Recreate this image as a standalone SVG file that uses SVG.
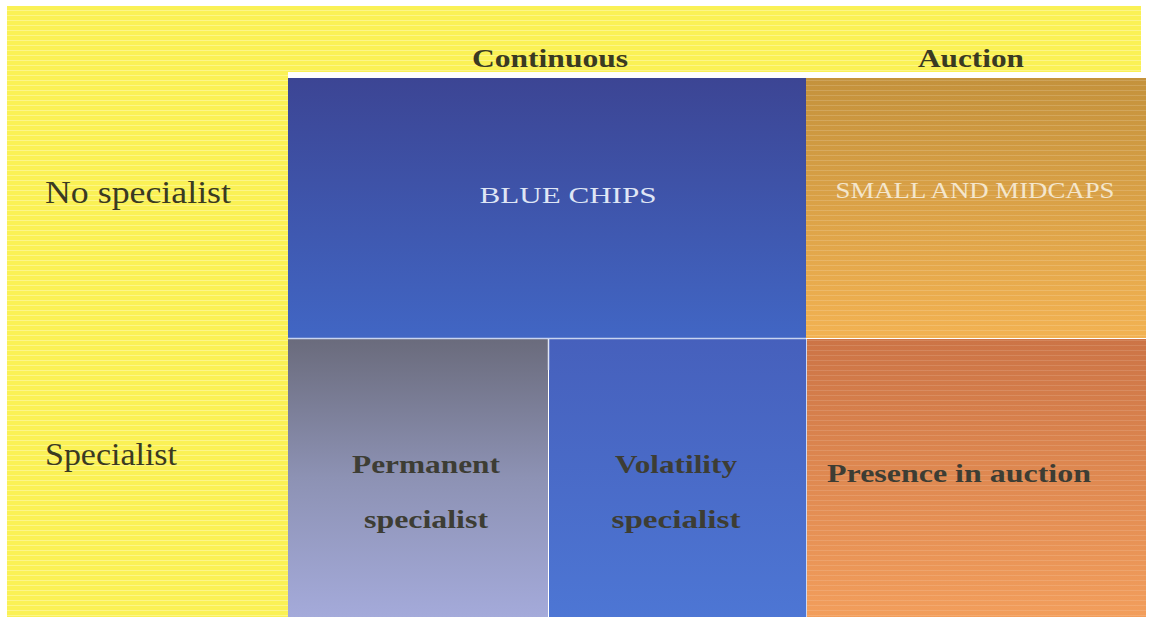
<svg xmlns="http://www.w3.org/2000/svg" width="1149" height="621" viewBox="0 0 1149 621">
<defs>
<linearGradient id="gBlue" x1="0" y1="0" x2="0" y2="1"><stop offset="0" stop-color="#3c4594"/><stop offset="1" stop-color="#4166c4"/></linearGradient>
<linearGradient id="gGold" x1="0" y1="0" x2="0" y2="1"><stop offset="0" stop-color="#c4923c"/><stop offset="1" stop-color="#f2b252"/></linearGradient>
<linearGradient id="gGray" x1="0" y1="0" x2="0" y2="1"><stop offset="0" stop-color="#6a6b7c"/><stop offset="0.5" stop-color="#8d92b4"/><stop offset="1" stop-color="#a4aada"/></linearGradient>
<linearGradient id="gVol" x1="0" y1="0" x2="0" y2="1"><stop offset="0" stop-color="#4660bc"/><stop offset="1" stop-color="#4d76d4"/></linearGradient>
<linearGradient id="gOr" x1="0" y1="0" x2="0" y2="1"><stop offset="0" stop-color="#cc7446"/><stop offset="1" stop-color="#f29e5c"/></linearGradient>
<pattern id="lines" width="10" height="5" patternUnits="userSpaceOnUse"><rect width="10" height="1" fill="#ffffff" opacity="0.3"/></pattern>
</defs>
<style>
.hdr{font-family:"Liberation Serif",serif;font-weight:bold;font-size:26px;fill:#3a3a22;text-anchor:middle}
.row{font-family:"Liberation Serif",serif;font-size:31px;fill:#3a3a22}
.cell{font-family:"Liberation Serif",serif;font-weight:bold;font-size:25px;fill:#3d3d34;text-anchor:middle}
.cap{font-family:"Liberation Serif",serif;font-size:24px;text-anchor:middle}
.start{text-anchor:start}
</style>
<rect width="1149" height="621" fill="#ffffff"/>
<g id="background">
<rect x="7" y="6" width="1134" height="66" fill="#faf155"/>
<rect x="7" y="6" width="281" height="611" fill="#faf155"/>
<rect x="7" y="6" width="1134" height="66" fill="url(#lines)"/>
<rect x="7" y="72" width="281" height="545" fill="url(#lines)"/>
</g>
<g id="col-continuous"><text class="hdr" x="550" y="67" textLength="156" lengthAdjust="spacingAndGlyphs">Continuous</text></g>
<g id="col-auction"><text class="hdr" x="971" y="67" textLength="106" lengthAdjust="spacingAndGlyphs">Auction</text></g>
<g id="row-no-specialist"><text class="row" x="45" y="203" textLength="186" lengthAdjust="spacingAndGlyphs">No specialist</text></g>
<g id="row-specialist"><text class="row" x="45" y="465" textLength="132" lengthAdjust="spacingAndGlyphs">Specialist</text></g>
<g id="blue-chips">
<rect x="288" y="78" width="518" height="260" fill="url(#gBlue)"/>
<text class="cap" x="568" y="203" fill="#dfe6f5" textLength="177" lengthAdjust="spacingAndGlyphs">BLUE CHIPS</text>
</g>
<g id="small-midcaps">
<rect x="806" y="78" width="340" height="260" fill="url(#gGold)"/>
<rect x="806" y="78" width="340" height="260" fill="url(#lines)" opacity="0.5"/>
<text class="cap" x="975" y="198" fill="#f4e6cc" font-size="21" textLength="279" lengthAdjust="spacingAndGlyphs">SMALL AND MIDCAPS</text>
</g>
<g id="permanent-specialist">
<rect x="288" y="339" width="260" height="278" fill="url(#gGray)"/>
<text class="cell" x="426" y="473" textLength="148" lengthAdjust="spacingAndGlyphs">Permanent</text>
<text class="cell" x="426" y="528" textLength="124" lengthAdjust="spacingAndGlyphs">specialist</text>
</g>
<g id="volatility-specialist">
<rect x="549" y="339" width="257" height="278" fill="url(#gVol)"/>
<text class="cell" x="676" y="473" textLength="122" lengthAdjust="spacingAndGlyphs">Volatility</text>
<text class="cell" x="676" y="528" textLength="129" lengthAdjust="spacingAndGlyphs">specialist</text>
</g>
<g id="presence-in-auction">
<rect x="807" y="339" width="339" height="278" fill="url(#gOr)"/>
<rect x="807" y="339" width="339" height="278" fill="url(#lines)" opacity="0.4"/>
<text class="cell start" x="827" y="482" fill="#3a3224" textLength="264" lengthAdjust="spacingAndGlyphs">Presence in auction</text>
</g>
<g id="connectors">
<line x1="288" y1="338.5" x2="806" y2="338.5" stroke="#c8d4f0" stroke-width="1.5"/>
<line x1="548.5" y1="339" x2="548.5" y2="370" stroke="#e0e6f6" stroke-width="1.5"/>
<line x1="806.5" y1="339" x2="806.5" y2="617" stroke="#cfd8f0" stroke-width="1"/>
</g>
</svg>
